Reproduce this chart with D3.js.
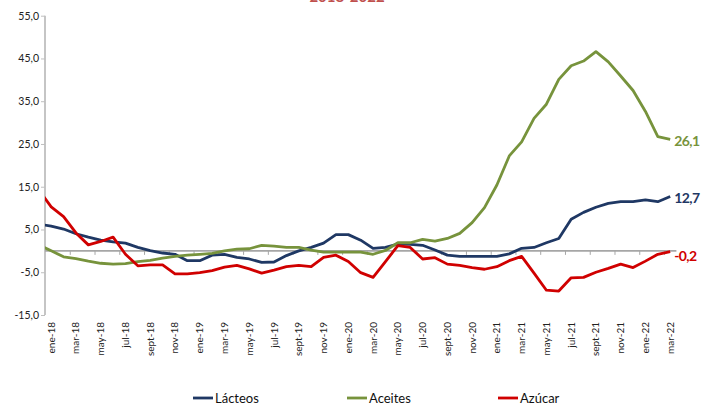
<!DOCTYPE html>
<html><head><meta charset="utf-8">
<script src="https://cdn.jsdelivr.net/npm/d3@7"></script>
<style>
body{margin:0;background:#fff;}
text{font-family:Lato,"Open Sans",sans-serif;}
</style></head>
<body><svg id="c" width="705" height="406"></svg>
<script>
// Months (first one, dic-17, lies just left of the plot area and is clipped)
const months = ["dic-17","ene-18","feb-18","mar-18","abr-18","may-18","jun-18","jul-18","ago-18","sept-18","oct-18","nov-18","dic-18",
"ene-19","feb-19","mar-19","abr-19","may-19","jun-19","jul-19","ago-19","sept-19","oct-19","nov-19","dic-19",
"ene-20","feb-20","mar-20","abr-20","may-20","jun-20","jul-20","ago-20","sept-20","oct-20","nov-20","dic-20",
"ene-21","feb-21","mar-21","abr-21","may-21","jun-21","jul-21","ago-21","sept-21","oct-21","nov-21","dic-21",
"ene-22","feb-22","mar-22"];
const lacteos = [6.2,5.8,5.1,4.0,3.2,2.5,2.1,1.8,0.8,0.05,-0.5,-0.8,-2.3,-2.3,-1.0,-0.8,-1.5,-1.9,-2.7,-2.6,-1.1,0.0,0.8,1.8,3.8,3.8,2.5,0.6,0.8,1.6,1.5,1.3,0.2,-1.0,-1.3,-1.3,-1.3,-1.3,-0.7,0.6,0.8,1.9,2.9,7.4,9.0,10.2,11.1,11.5,11.5,11.9,11.5,12.7];
const aceites = [1.4,0.0,-1.4,-1.8,-2.4,-2.9,-3.1,-3.0,-2.5,-2.2,-1.7,-1.3,-1.0,-0.8,-0.6,0.0,0.4,0.5,1.3,1.1,0.8,0.8,0.2,-0.3,-0.3,-0.3,-0.3,-0.8,0.1,1.9,1.9,2.7,2.3,2.9,4.1,6.6,10.1,15.4,22.2,25.5,31.0,34.3,40.1,43.3,44.4,46.6,44.2,40.9,37.5,32.6,26.7,26.1];
const azucar = [14.3,10.3,8.0,4.2,1.4,2.2,3.2,-0.8,-3.5,-3.3,-3.3,-5.4,-5.4,-5.1,-4.6,-3.8,-3.4,-4.2,-5.2,-4.5,-3.7,-3.4,-3.7,-1.5,-1.0,-2.5,-5.1,-6.2,-2.5,1.2,0.8,-1.9,-1.6,-3.1,-3.4,-3.9,-4.3,-3.7,-2.3,-1.3,-5.2,-9.2,-9.4,-6.3,-6.2,-5.0,-4.1,-3.1,-3.9,-2.4,-0.8,-0.2];
const yTicks = [55,45,35,25,15,5,-5,-15];
const seriesNames = ["Lácteos","Aceites","Azúcar"];
const seriesColors = ["#1f3864","#77933c","#d00000"];
const endLabels = ["12,7","26,1","-0,2"];
const title = "2018-2022";

const series = [lacteos, aceites, azucar];
const svg = d3.select("#c");
const x = d3.scaleLinear().domain([0.5, 51.5]).range([45, 676.4]);
const y = d3.scaleLinear().domain([-15, 55]).range([315, 15.7]);
const fmt = v => d3.format(".1f")(v).replace(".", ",").replace("−","-");

// title sliver (cut at top, as in the reference)
svg.append("text").attr("x", 347).attr("y", 1.5).attr("text-anchor","middle")
  .attr("font-size", 15).attr("font-weight","bold").attr("fill","#c0504d").text(title);

// y axis
const yAxis = svg.append("g").attr("transform","translate(45,0)")
  .call(d3.axisLeft(y).tickValues(yTicks).tickSize(4).tickFormat(fmt));
yAxis.select(".domain").attr("stroke","#bfbfbf").attr("stroke-width",1.8).attr("d", `M0,${y(-15)}V${y(55)}`);
yAxis.selectAll(".tick line").attr("stroke","#bfbfbf").attr("stroke-width",1);
yAxis.selectAll(".tick text").attr("font-size",10.5).attr("fill","#222").attr("x",-6)
  .attr("font-family","Lato,sans-serif");

// zero line with ticks
const tickIdx = d3.range(2.5, 51, 2);
const xAxis = svg.append("g").attr("transform",`translate(0,${y(0)})`)
  .call(d3.axisBottom(x).tickValues(tickIdx).tickSize(4).tickFormat(""));
xAxis.select(".domain").attr("stroke","#a6a6a6").attr("stroke-width",1.8).attr("d", `M${x(0.5)},0H${x(51.5)}`);
xAxis.selectAll(".tick line").attr("stroke","#a6a6a6").attr("stroke-width",1);

// x labels at bottom
const labelIdx = d3.range(1, months.length, 2);
svg.append("g").selectAll("text").data(labelIdx).join("text")
  .attr("transform", i => `translate(${x(i)},322) rotate(-90)`)
  .attr("text-anchor","end").attr("dy","0.35em").attr("font-size",10).attr("fill","#222")
  .text(i => months[i]);

// clip
svg.append("clipPath").attr("id","clip").append("rect")
  .attr("x", x(0.5)).attr("y", 0).attr("width", x(51.5)-x(0.5)+4).attr("height", 406);

const line = d3.line().x((d,i) => x(i)).y(d => y(d));
svg.append("g").attr("clip-path","url(#clip)").selectAll("path").data(series).join("path")
  .attr("d", d => line(d)).attr("fill","none")
  .attr("stroke", (d,k) => seriesColors[k]).attr("stroke-width",2.8).attr("stroke-linejoin","round");

// end labels
svg.append("g").selectAll("text").data(series).join("text")
  .attr("x", x(51) + 4).attr("y", (d,k) => y(d[d.length-1]) + (k===2 ? 6 : 3))
  .attr("dominant-baseline","middle").attr("font-size",14).attr("font-weight","bold")
  .attr("letter-spacing","-0.6").attr("fill",(d,k)=>seriesColors[k]).text((d,k)=>endLabels[k]);

// legend
const legX = [193, 347, 498];
const leg = svg.append("g").selectAll("g").data(seriesNames).join("g")
  .attr("transform",(d,k)=>`translate(${legX[k]},398)`);
leg.append("line").attr("x1",0).attr("x2",20).attr("stroke",(d,k)=>seriesColors[k]).attr("stroke-width",2.8);
leg.append("text").attr("x",22).attr("dy","0.35em").attr("font-size",13).attr("fill","#111").text(d=>d);
</script></body></html>
